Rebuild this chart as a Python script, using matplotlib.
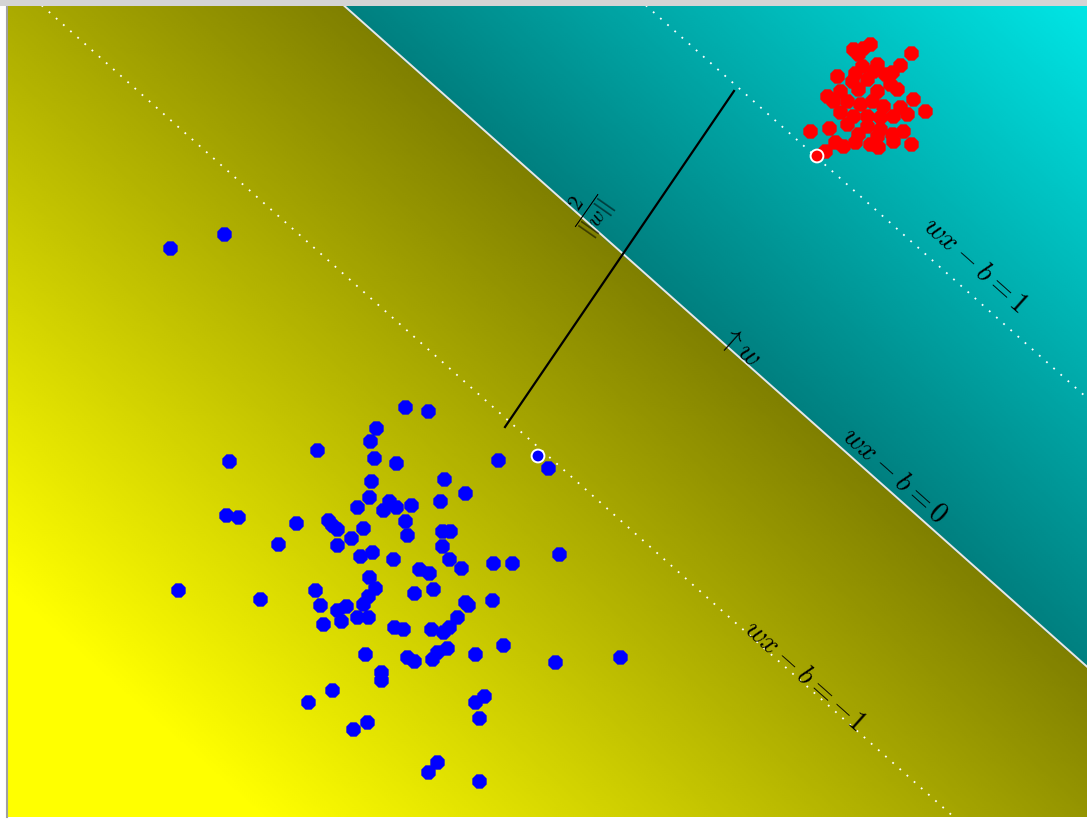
import numpy as np
import matplotlib
matplotlib.use('Agg')
import matplotlib.pyplot as plt
from matplotlib.colors import LinearSegmentedColormap, TwoSlopeNorm

plt.rcParams['mathtext.fontset'] = 'cm'

# separating hyperplane: w.x - b
W = np.array([0.331, 0.372])
B = 4.134

blue_x = [1.63, 2.17, 2.22, 2.19, 2.31, 1.71, 2.53, 2.71, 2.89, 3.10, 3.98, 4.21, 3.69, 3.63,
          3.67, 3.89, 4.37, 3.64, 3.62, 3.50, 3.82, 3.76, 3.89, 4.04, 4.33, 3.98, 3.21, 3.25,
          3.30, 3.56, 3.30, 3.44, 4.00, 4.35, 4.43, 4.35, 3.65, 3.53, 3.86, 4.42, 4.12, 4.22,
          4.54, 3.62, 3.08, 3.68, 4.07, 4.26, 3.61, 3.13, 3.30, 3.39, 3.56, 3.34, 3.50, 3.61,
          3.16, 3.87, 3.96, 4.24, 4.36, 4.42, 4.50, 3.58, 4.00, 4.07, 4.25, 4.30, 4.40, 3.74,
          3.74, 3.25, 3.01, 3.60, 3.46, 4.30, 4.21, 4.91, 5.41, 4.58, 5.52, 4.86, 5.05, 4.58,
          4.61, 4.85, 4.68, 4.96, 5.48, 6.13, 4.77, 4.68, 4.72, 4.72]
blue_y = [5.69, 5.83, 3.56, 3.02, 3.00, 2.27, 2.18, 2.73, 2.94, 3.67, 4.10, 4.06, 3.89, 3.76,
          3.59, 3.54, 3.38, 3.36, 3.20, 3.10, 3.16, 3.07, 3.10, 3.12, 3.16, 2.96, 2.97, 2.92,
          2.88, 2.89, 2.72, 2.79, 2.82, 2.86, 2.86, 2.71, 2.65, 2.61, 2.58, 2.58, 2.48, 2.44,
          2.49, 2.40, 2.27, 2.29, 2.24, 2.28, 2.21, 2.12, 2.07, 2.11, 2.13, 1.96, 2.00, 2.00,
          1.93, 1.90, 1.88, 1.88, 1.85, 1.90, 2.00, 1.63, 1.60, 1.56, 1.58, 1.65, 1.69, 1.45,
          1.37, 1.27, 1.15, 0.95, 0.88, 0.55, 0.45, 3.57, 3.49, 3.24, 2.63, 2.54, 2.54, 2.15,
          2.12, 2.17, 1.63, 1.72, 1.55, 1.60, 1.21, 1.15, 0.99, 0.36]

red_x = [8.63, 8.46, 8.56, 9.04, 8.51, 8.70, 8.55, 8.93, 8.30, 8.48, 8.66, 8.78, 8.85, 8.45,
         8.60, 8.83, 8.20, 8.33, 8.51, 8.70, 8.90, 9.06, 9.18, 8.26, 8.40, 8.53, 8.65, 8.76,
         8.93, 8.33, 8.46, 8.60, 8.73, 8.86, 9.00, 8.03, 8.22, 8.40, 8.60, 8.73, 8.85, 8.96,
         8.70, 8.51, 8.28, 8.48, 8.63, 8.71, 8.86, 9.04, 8.18, 8.36]
red_y = [7.73, 7.68, 7.69, 7.64, 7.63, 7.53, 7.51, 7.52, 7.41, 7.44, 7.46, 7.43, 7.45, 7.36,
         7.38, 7.33, 7.21, 7.26, 7.28, 7.26, 7.28, 7.18, 7.06, 7.16, 7.16, 7.13, 7.16, 7.11,
         7.10, 7.05, 7.01, 7.01, 7.00, 7.01, 7.03, 6.86, 6.89, 6.93, 6.91, 6.88, 6.83, 6.86,
         6.81, 6.83, 6.75, 6.75, 6.73, 6.70, 6.76, 6.73, 6.66, 6.71]

# support vectors
sv_x = [5.31, 8.10]
sv_y = [3.61, 6.61]
sv_colors = ['blue', 'red']

# margin width marker
margin_x = [4.98, 7.27]
margin_y = [3.90, 7.26]

XMAX, YMAX = 10.80, 8.11

fig = plt.figure(figsize=(10.87, 8.2), dpi=100, facecolor='white')
ax = fig.add_axes([7 / 1087, 2 / 820, 1080 / 1087, 811 / 820])

# decision function as background
gx = np.linspace(0, XMAX, 540)
gy = np.linspace(0, YMAX, 406)
GX, GY = np.meshgrid(gx, gy)
F = W[0] * GX + W[1] * GY - B

cmap = LinearSegmentedColormap.from_list('svm', [
    (0.0, (1.0, 1.0, 0.0)),
    (0.5, (0.5, 0.5, 0.0)),
    (0.5, (0.0, 0.5, 0.5)),
    (1.0, (0.0, 1.0, 1.0)),
])
ax.imshow(F, extent=(0, XMAX, 0, YMAX), origin='lower', cmap=cmap,
          norm=TwoSlopeNorm(vcenter=0, vmin=-3.3, vmax=3.1), aspect='auto',
          interpolation='bilinear')

# hyperplane and margins
lx = np.array([0, XMAX])
for level in (-1, 0, 1):
    ly = (B + level - W[0] * lx) / W[1]
    if level == 0:
        ax.plot(lx, ly, color='#e8e8e8', lw=1.4)
    else:
        ax.plot(lx, ly, color='white', lw=1.3, linestyle=(0, (1, 4.3)))

ax.plot(margin_x, margin_y, color='black', lw=1.6)

mk = (8, 0, 22.5)
ax.scatter(blue_x, blue_y, s=125, marker=mk, color='blue', linewidths=0, zorder=3)
ax.scatter(red_x, red_y, s=125, marker=mk, color='red', linewidths=0, zorder=3)
ax.scatter(sv_x, sv_y, s=85, marker='o', c=sv_colors, edgecolors='white', linewidths=1.4, zorder=4)

ax.text(9.68, 5.53, r'$wx-b=1$', fontsize=21, rotation=-41.7, ha='center', va='center')
ax.text(8.88, 3.43, r'$wx-b=0$', fontsize=21, rotation=-41.7, ha='center', va='center')
ax.text(7.98, 1.43, r'$wx-b=-1$', fontsize=21, rotation=-41.7, ha='center', va='center')
ax.text(7.33, 4.71, r'$\uparrow w$', fontsize=21, rotation=-41.7, ha='center', va='center')
ax.text(5.82, 6.06, r'$\frac{2}{||w||}$', fontsize=22, rotation=55, ha='center', va='center')

ax.set_xlim(0, XMAX)
ax.set_ylim(0, YMAX)
ax.set_xticks([])
ax.set_yticks([])
for sp in ax.spines.values():
    sp.set_visible(False)
ax.spines['left'].set_visible(True)
ax.spines['left'].set_color('#a0a0a0')
ax.spines['left'].set_linewidth(1.5)

# window frame strip along the top
fig.patches.append(plt.Rectangle((0, 1 - 7 / 820), 1, 7 / 820, transform=fig.transFigure,
                                 facecolor='#d4d4d4', edgecolor='none'))

fig.savefig('out.png', dpi=100)
